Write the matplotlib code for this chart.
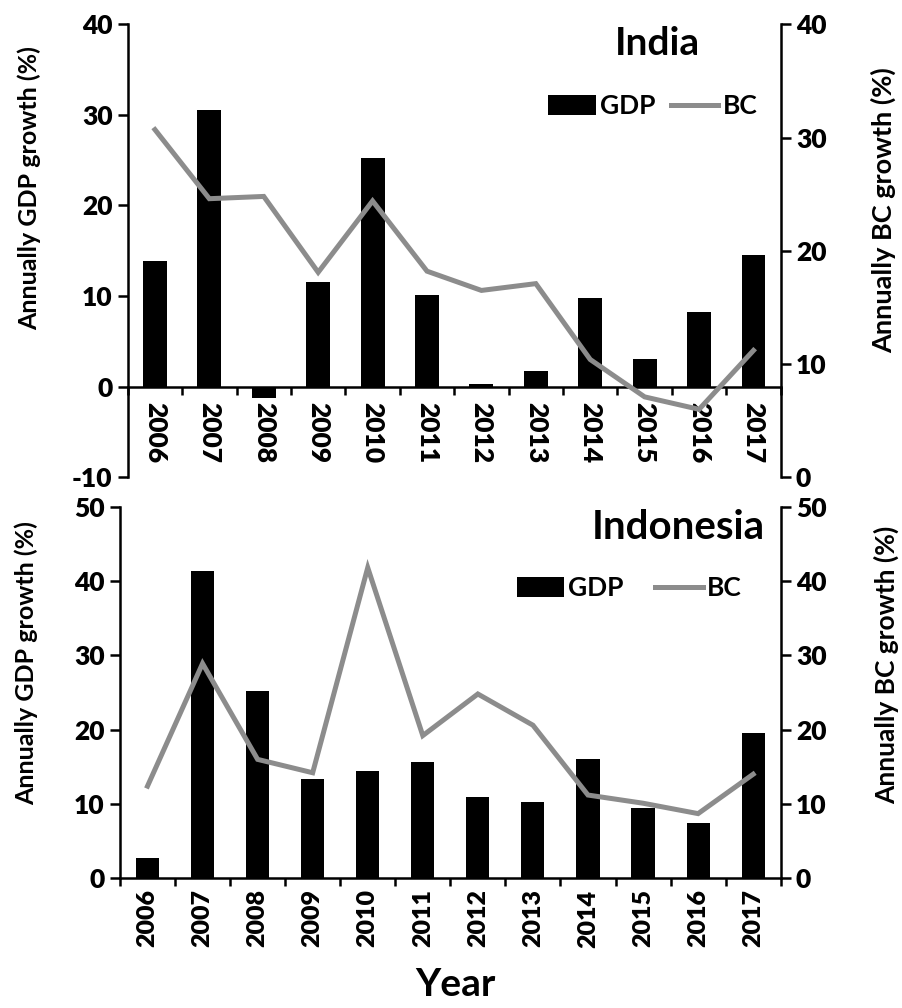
import matplotlib
matplotlib.use("Agg")
import matplotlib.pyplot as plt
import numpy as np

plt.rcParams['font.family'] = ['Lato', 'DejaVu Sans']
plt.rcParams['font.weight'] = 'bold'

years = ['2006', '2007', '2008', '2009', '2010', '2011',
         '2012', '2013', '2014', '2015', '2016', '2017']

india_gdp = [13.9, 30.5, -1.2, 11.6, 25.2, 10.1, 0.3, 1.7, 9.8, 3.1, 8.2, 14.5]
india_bc = [30.7, 24.6, 24.8, 18.1, 24.4, 18.2, 16.5, 17.1, 10.4, 7.1, 6.0, 11.2]

indo_gdp = [2.7, 41.3, 25.2, 13.3, 14.5, 15.6, 10.9, 10.2, 16.1, 9.5, 7.5, 19.6]
indo_bc = [12.4, 28.9, 16.0, 14.2, 41.8, 19.2, 24.8, 20.6, 11.2, 10.1, 8.7, 14.0]

BAR_C = 'black'
LINE_C = '#8c8c8c'
LW_SPINE = 1.8
TICK_W = 'heavy'

fig = plt.figure(figsize=(9.02, 10.08), dpi=100)

def style_axes(ax, ax2, zero_spine, xrot, xlabsize, xpad):
    x = np.arange(len(years))
    for s in ['top', 'right']:
        ax.spines[s].set_visible(False)
    for s in ['top', 'left', 'bottom']:
        ax2.spines[s].set_visible(False)
    ax.spines['left'].set_linewidth(LW_SPINE)
    ax.spines['bottom'].set_linewidth(LW_SPINE)
    ax2.spines['right'].set_linewidth(LW_SPINE)
    if zero_spine:
        ax.spines['bottom'].set_position(('data', 0))
    ax.set_xlim(-0.5, len(years) - 0.5)
    ax.set_xticks(x)
    ax.set_xticklabels(years, rotation=xrot, fontsize=xlabsize, fontweight=TICK_W)
    ax.set_xticks(np.arange(len(years) + 1) - 0.5, minor=True)
    ax.tick_params(axis='x', which='major', length=0, pad=xpad)
    ax.tick_params(axis='x', which='minor', length=6, width=LW_SPINE, direction='out')
    ax.tick_params(axis='y', which='major', length=7, width=LW_SPINE, direction='out',
                   labelsize=19, pad=4)
    ax2.tick_params(axis='y', which='major', length=7, width=LW_SPINE, direction='out',
                    labelsize=19, pad=4)
    ax.set_yticklabels([str(int(v)) for v in ax.get_yticks()], fontweight=TICK_W)
    ax2.set_yticklabels([str(int(v)) for v in ax2.get_yticks()], fontweight=TICK_W)

# ---------- India ----------
ax1 = fig.add_axes([0.1416, 0.5265, 0.7239, 0.4494])
ax1b = ax1.twinx()
x = np.arange(len(years))
b1 = ax1.bar(x, india_gdp, width=0.44, color=BAR_C, label='GDP', zorder=2)
l1, = ax1b.plot(x, india_bc, color=LINE_C, lw=3.6, label='BC', solid_joinstyle='miter')
ax1.set_ylim(-10, 40)
ax1.set_yticks([-10, 0, 10, 20, 30, 40])
ax1b.set_ylim(0, 40)
ax1b.set_yticks([0, 10, 20, 30, 40])
style_axes(ax1, ax1b, True, -90, 19, 11)
ax1.text(0.812, 0.957, 'India', transform=ax1.transAxes, fontsize=28,
         fontweight='bold', ha='center', va='center')
ax1b.legend([b1, l1], ['GDP', 'BC'], loc='upper right', bbox_to_anchor=(0.964, 0.846),
            ncol=2, frameon=False, prop={'weight': 'bold', 'size': 19},
            handlelength=1.8, handletextpad=0.15, columnspacing=0.6, borderpad=0,
            borderaxespad=0, handleheight=0.75)

# ---------- Indonesia ----------
ax2 = fig.add_axes([0.1330, 0.1287, 0.7325, 0.3686])
ax2b = ax2.twinx()
b2 = ax2.bar(x, indo_gdp, width=0.42, color=BAR_C, label='GDP', zorder=2)
l2, = ax2b.plot(x, indo_bc, color=LINE_C, lw=3.6, label='BC', solid_joinstyle='miter')
ax2.set_ylim(0, 50)
ax2.set_yticks([0, 10, 20, 30, 40, 50])
ax2b.set_ylim(0, 50)
ax2b.set_yticks([0, 10, 20, 30, 40, 50])
style_axes(ax2, ax2b, False, 90, 18, 8)
ax2.text(0.976, 0.945, 'Indonesia', transform=ax2.transAxes, fontsize=29,
         fontweight='bold', ha='right', va='center')
ax2b.legend([b2, l2], ['GDP', 'BC'], loc='upper right', bbox_to_anchor=(0.941, 0.813),
            ncol=2, frameon=False, prop={'weight': 'bold', 'size': 19},
            handlelength=1.8, handletextpad=0.15, columnspacing=1.2, borderpad=0,
            borderaxespad=0, handleheight=0.75)

# ---------- axis labels ----------
LAB_W = 'bold'
fig.text(29 / 902, 1 - 188 / 1008, 'Annually GDP growth (%)', rotation=90,
         ha='center', va='center', fontsize=18, fontweight=LAB_W)
fig.text(883 / 902, 1 - 210 / 1008, 'Annually BC growth (%)', rotation=90,
         ha='center', va='center', fontsize=19.5, fontweight=LAB_W)
fig.text(26 / 902, 1 - 663 / 1008, 'Annually GDP growth (%)', rotation=90,
         ha='center', va='center', fontsize=18, fontweight=LAB_W)
fig.text(886 / 902, 1 - 665 / 1008, 'Annually BC growth (%)', rotation=90,
         ha='center', va='center', fontsize=19, fontweight=LAB_W)
fig.text(455 / 902, 1 - 985 / 1008, 'Year', ha='center', va='center',
         fontsize=28, fontweight='bold')

fig.savefig('out.png', dpi=100)
